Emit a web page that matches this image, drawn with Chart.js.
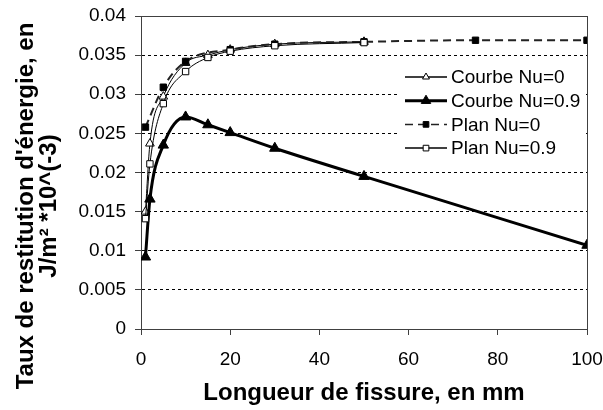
<!DOCTYPE html>
<html>
<head>
<meta charset="utf-8">
<script src="https://cdn.jsdelivr.net/npm/chart.js@4.4.1/dist/chart.umd.min.js"></script>
<style>
  body { margin: 0; background: #fff; }
</style>
</head>
<body>
<canvas id="chart" width="603" height="410"></canvas>
<script>
// data
const seriesNames = ['Courbe Nu=0', 'Courbe Nu=0.9', 'Plan Nu=0', 'Plan Nu=0.9'];

const courbe0X = [1, 2, 5, 10, 15, 20, 30, 50];
const courbe0Y = [0.0150, 0.0237, 0.0297, 0.0340, 0.0350, 0.0357, 0.0364, 0.0367];

const courbe09X = [1, 2, 5, 10, 15, 20, 30, 50, 100];
const courbe09Y = [0.0092, 0.0166, 0.0235, 0.0271, 0.0261, 0.0251, 0.0231, 0.0195, 0.0107];

const plan0X = [1, 5, 10, 20, 30, 50, 75, 100];
const plan0Y = [0.0258, 0.0309, 0.0342, 0.0357, 0.0364, 0.0367, 0.0369, 0.0369];

const plan09X = [1, 2, 5, 10, 15, 20, 30, 50];
const plan09Y = [0.0141, 0.0211, 0.0288, 0.0329, 0.0347, 0.0355, 0.0362, 0.0366];

const xTickLabels = ['0', '20', '40', '60', '80', '100'];
const yTickLabels = ['0', '0.005', '0.01', '0.015', '0.02', '0.025', '0.03', '0.035', '0.04'];

const xTitle = 'Longueur de fissure, en mm';
const yTitle = ["Taux de restitution d'énergie, en", 'J/m² *10^(-3)'];

const FONT = "'Liberation Sans', Arial, sans-serif";
const AXIS = '#404040';

function pts(xs, ys) {
  return xs.map((x, i) => ({ x: x, y: ys[i] }));
}

// y title is centred on the whole picture, not on the plot, so draw it by hand
const yTitlePlugin = {
  id: 'yTitle',
  afterDraw(chart) {
    const ctx = chart.ctx;
    ctx.save();
    ctx.fillStyle = '#000';
    ctx.font = 'bold 24px ' + FONT;
    ctx.textAlign = 'center';
    ctx.textBaseline = 'middle';
    const xs = [26, 49];
    yTitle.forEach((t, i) => {
      ctx.save();
      ctx.translate(xs[i], 206);
      ctx.rotate(-Math.PI / 2);
      ctx.fillText(t, 0, 0);
      ctx.restore();
    });
    ctx.restore();
  }
};

// box round the plot area
const framePlugin = {
  id: 'frame',
  beforeDatasetsDraw(chart) {
    const { ctx, chartArea: a } = chart;
    ctx.save();
    ctx.strokeStyle = AXIS;
    ctx.lineWidth = 1;
    ctx.strokeRect(a.left + 0.5, a.top + 0.5, a.right - a.left, a.bottom - a.top);
    ctx.restore();
  }
};

// legend sits inside the plot, on a white box
const legendPlugin = {
  id: 'insideLegend',
  afterDraw(chart) {
    const ctx = chart.ctx;
    ctx.save();
    ctx.fillStyle = '#fff';
    ctx.fillRect(398, 62, 188, 98);
    chart.data.datasets.forEach((ds, i) => {
      const y = 77 + i * 23.7;
      ctx.strokeStyle = ds.borderColor;
      ctx.lineWidth = ds.legendLineWidth;
      ctx.setLineDash(ds.borderDash || []);
      ctx.beginPath();
      ctx.moveTo(405, y);
      ctx.lineTo(447, y);
      ctx.stroke();
      ctx.setLineDash([]);
      ctx.fillStyle = ds.pointBackgroundColor;
      ctx.strokeStyle = ds.pointBorderColor;
      ctx.lineWidth = 1;
      Chart.helpers.drawPoint(ctx, {
        pointStyle: ds.pointStyle,
        radius: ds.legendRadius,
        rotation: 0,
        borderWidth: 1
      }, 426, y);
      ctx.fillStyle = '#000';
      ctx.font = '19px ' + FONT;
      ctx.textAlign = 'left';
      ctx.textBaseline = 'middle';
      ctx.fillText(ds.label, 451, y + 1);
    });
    ctx.restore();
  }
};

new Chart(document.getElementById('chart'), {
  type: 'scatter',
  data: {
    datasets: [
      {
        label: seriesNames[0],
        data: pts(courbe0X, courbe0Y),
        showLine: true,
        borderColor: '#000',
        borderWidth: 1,
        legendLineWidth: 1.5,
        pointStyle: 'triangle',
        pointRadius: 5,
        legendRadius: 4,
        pointBackgroundColor: '#fff',
        pointBorderColor: '#000',
        pointBorderWidth: 1,
        cubicInterpolationMode: 'monotone',
        order: 3
      },
      {
        label: seriesNames[1],
        data: pts(courbe09X, courbe09Y),
        showLine: true,
        borderColor: '#000',
        borderWidth: 3,
        legendLineWidth: 3,
        pointStyle: 'triangle',
        pointRadius: 6,
        legendRadius: 5.5,
        pointBackgroundColor: '#000',
        pointBorderColor: '#000',
        pointBorderWidth: 1,
        cubicInterpolationMode: 'monotone',
        order: 2
      },
      {
        label: seriesNames[2],
        data: pts(plan0X, plan0Y),
        showLine: true,
        borderColor: '#222',
        borderWidth: 2,
        legendLineWidth: 1.5,
        borderDash: [8, 5],
        pointStyle: 'rect',
        pointRadius: 4.5,
        legendRadius: 4,
        pointBackgroundColor: '#000',
        pointBorderColor: '#000',
        pointBorderWidth: 1,
        cubicInterpolationMode: 'monotone',
        order: 1
      },
      {
        label: seriesNames[3],
        data: pts(plan09X, plan09Y),
        showLine: true,
        borderColor: '#000',
        borderWidth: 1,
        legendLineWidth: 1.5,
        pointStyle: 'rect',
        pointRadius: 4.5,
        legendRadius: 4,
        pointBackgroundColor: '#fff',
        pointBorderColor: '#000',
        pointBorderWidth: 1,
        cubicInterpolationMode: 'monotone',
        order: 0
      }
    ]
  },
  options: {
    responsive: false,
    animation: false,
    layout: { padding: { top: 16, right: 16, left: 0, bottom: 0 } },
    plugins: {
      legend: { display: false },
      tooltip: { enabled: false }
    },
    scales: {
      x: {
        type: 'linear',
        min: 0,
        max: 100,
        ticks: {
          stepSize: 20,
          color: '#000',
          font: { family: FONT, size: 19 },
          padding: 13,
          callback: (v, i) => xTickLabels[i]
        },
        grid: { drawOnChartArea: false, tickLength: 6, color: AXIS, tickColor: AXIS },
        border: { color: AXIS, width: 1 },
        title: {
          display: true,
          text: xTitle,
          color: '#000',
          font: { family: FONT, size: 24, weight: 'bold', lineHeight: 1.2 },
          padding: { top: 0, bottom: 2 }
        },
        afterFit(scale) {
          scale.height = 81;
          scale.paddingLeft = 0;
          scale.paddingRight = 0;
        }
      },
      y: {
        type: 'linear',
        min: 0,
        max: 0.04,
        ticks: {
          stepSize: 0.005,
          color: '#000',
          font: { family: FONT, size: 19 },
          padding: 9,
          callback: (v, i) => yTickLabels[i]
        },
        grid: {
          tickLength: 6,
          tickColor: AXIS,
          tickBorderDash: [],
          color: ctx => (ctx.index === 0 || ctx.index === yTickLabels.length - 1) ? 'rgba(0,0,0,0)' : '#000'
        },
        border: { color: AXIS, width: 1, dash: [3, 3] },
        afterFit(scale) {
          scale.width = 141;
          scale.paddingTop = 0;
          scale.paddingBottom = 0;
        }
      }
    }
  },
  plugins: [framePlugin, legendPlugin, yTitlePlugin]
});
</script>
</body>
</html>
